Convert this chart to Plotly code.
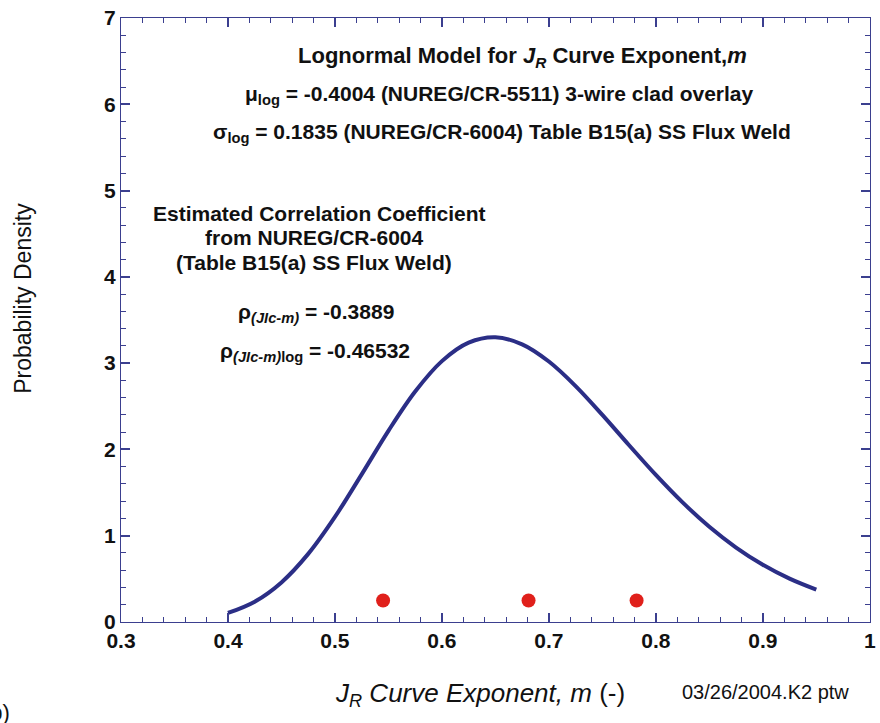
import plotly.graph_objects as go

# Lognormal density of the J_R curve exponent m
m_values = [0.400, 0.425, 0.450, 0.475, 0.500, 0.525, 0.550, 0.575, 0.600,
            0.625, 0.650, 0.675, 0.700, 0.725, 0.750, 0.775, 0.800, 0.825,
            0.850, 0.875, 0.900, 0.925, 0.950]
density = [0.1045, 0.2356, 0.4591, 0.7893, 1.2179, 1.7113, 2.2157, 2.6710,
           3.0233, 3.2371, 3.2992, 3.2183, 3.0189, 2.7345, 2.4004, 2.0485,
           1.7044, 1.3859, 1.1039, 0.8629, 0.6632, 0.5020, 0.3746]

# Observed data points
obs_m = [0.545, 0.681, 0.782]
obs_y = [0.25, 0.25, 0.25]

x_ticks = [0.3, 0.4, 0.5, 0.6, 0.7, 0.8, 0.9, 1.0]
x_tick_labels = ["0.3", "0.4", "0.5", "0.6", "0.7", "0.8", "0.9", "1"]
y_ticks = [0, 1, 2, 3, 4, 5, 6, 7]
y_tick_labels = ["0", "1", "2", "3", "4", "5", "6", "7"]

AXIS = "#3b3f8f"
FONT = "Liberation Sans, Arial, sans-serif"

fig = go.Figure()
fig.add_trace(go.Scatter(x=m_values, y=density, mode="lines",
                         line=dict(color="#2b2e86", width=4, shape="spline"),
                         hoverinfo="skip"))
fig.add_trace(go.Scatter(x=obs_m, y=obs_y, mode="markers",
                         marker=dict(color="#e0201b", size=14),
                         hoverinfo="skip"))

axis_common = dict(showline=True, linecolor=AXIS, linewidth=1, mirror="ticks",
                   ticks="inside", tickcolor=AXIS, ticklen=9, tickwidth=1.5,
                   showgrid=False, zeroline=False, ticklabeloverflow="allow",
                   tickfont=dict(family=FONT, size=21, color="#111"))

fig.update_xaxes(range=[0.3, 1.0002], tickvals=x_ticks,
                 ticktext=[f"<b>{t}</b>" for t in x_tick_labels],
                 minor=dict(dtick=0.02, ticks="inside", ticklen=5,
                            tickcolor=AXIS, tickwidth=1),
                 **axis_common)
fig.update_yaxes(range=[0, 7], tickvals=y_ticks,
                 ticktext=[f"<b>{t}</b>" for t in y_tick_labels],
                 minor=dict(dtick=0.2, ticks="inside", ticklen=5,
                            tickcolor=AXIS, tickwidth=1),
                 **axis_common)

def px(xp, yp):
    # page pixel -> paper coords of the plot area
    return (xp - 121) / (876 - 121), (622 - yp) / (622 - 18)

def note(text, xp, yp, size=21, angle=0):
    xx, yy = px(xp, yp)
    fig.add_annotation(text=text, xref="paper", yref="paper", x=xx, y=yy,
                       xanchor="center", yanchor="middle", showarrow=False,
                       textangle=angle,
                       font=dict(family=FONT, size=size, color="#111"))

# model description
note("<b>Lognormal Model for <i>J<sub>R</sub></i> Curve Exponent,<i>m</i></b>", 526, 57, size=22)
note("<b>μ<sub>log</sub> = -0.4004 (NUREG/CR-5511) 3-wire clad overlay</b>", 503, 95)
note("<b>σ<sub>log</sub> = 0.1835 (NUREG/CR-6004) Table B15(a) SS Flux Weld</b>", 505, 133)

# correlation block
note("<b>Estimated Correlation Coefficient</b>", 321, 213)
note("<b>from NUREG/CR-6004</b>", 316, 237)
note("<b>(Table B15(a) SS Flux Weld)</b>", 316, 262)
note("<b>ρ<sub><i>(JIc-m)</i></sub> = -0.3889</b>", 318, 313, size=21)
note("<b>ρ<sub><i>(JIc-m)</i>log</sub> = -0.46532</b>", 317, 352, size=21)

# axis titles and footer
note("<i>J<sub>R</sub> Curve Exponent, m</i> (-)", 483, 694, size=26)
note("03/26/2004.K2 ptw", 771, 692, size=20)
note("Probability Density", 22, 298, size=23, angle=-90)
note("(b)", -4, 712, size=22)

fig.update_layout(width=880, height=723, showlegend=False,
                  margin=dict(l=121, r=4, t=18, b=101),
                  paper_bgcolor="white", plot_bgcolor="white")

fig.write_html("out.html")
